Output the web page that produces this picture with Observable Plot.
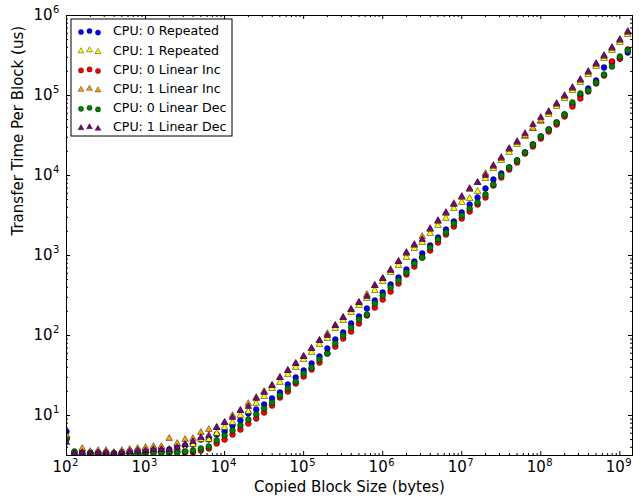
<!DOCTYPE html>
<html><head><meta charset="utf-8">
<script src="https://cdn.jsdelivr.net/npm/d3@7"></script>
<script src="https://cdn.jsdelivr.net/npm/@observablehq/plot@0.6"></script>
<style>body{margin:0;background:#fff;}</style>
</head><body><div id="chart"></div>
<script>
const blockSizes = [100, 126, 158, 200, 251, 316, 398, 501, 631, 794,
  1000, 1259, 1585, 1995, 2512, 3162, 3981, 5012, 6310, 7943,
  10000, 12589, 15849, 19953, 25119, 31623, 39811, 50119, 63096, 79433,
  100000, 125893, 158489, 199526, 251189, 316228, 398107, 501187, 630957, 794328,
  1000000, 1258925, 1584893, 1995262, 2511886, 3162278, 3981072, 5011872, 6309573, 7943282,
  10000000, 12589254, 15848932, 19952623, 25118864, 31622777, 39810717, 50118723, 63095734, 79432823,
  100000000, 125892541, 158489319, 199526231, 251188643, 316227766, 398107171, 501187234, 630957344, 794328235,
  1000000000, 1258925412];

const cpu0Repeated = [6.31,3.45,3.55,3.45,3.45,3.45,3.35,3.45,3.55,3.65,
  3.65,3.76,3.76,3.76,4.10,4.22,4.34,5.01,5.01,5.79,
  6.31,7.50,8.66,10.59,11.89,13.72,16.31,19.39,24.41,29.85,
  36.52,44.67,54.64,68.79,89.13,109.0,141.3,172.8,217.5,273.8,
  344.7,434.0,530.9,668.3,841.4,1059,1334,1679,2113,2661,
  3447,4340,5309,6879,8913,10590,12590,15400,19390,24410,
  30730,37580,45970,57880,77180,100000,122300,154000,223900,258500,
  290100,344700];
const cpu1Repeated = [5.31,3.35,3.45,3.35,3.45,3.45,3.35,3.45,3.55,3.55,
  3.65,3.65,3.65,3.65,3.76,3.76,4.34,5.01,5.01,5.96,
  7.08,8.18,10.0,11.22,14.13,17.28,21.75,25.85,32.55,39.81,
  50.12,61.31,77.18,91.73,122.3,154.0,193.9,237.1,290.1,365.2,
  473.2,613.1,749.9,944.1,1223,1454,1884,2371,2901,3868,
  4597,5158,6310,9173,12230,15400,19390,24410,30730,38680,
  47320,57880,72860,91730,115500,145400,183000,230400,290100,365200,
  459700,578800];
const cpu0LinearInc = [5.31,3.35,3.35,3.35,3.35,3.35,3.35,3.35,3.35,3.35,
  3.35,3.35,3.35,3.35,3.45,3.45,3.45,3.65,3.87,4.47,
  5.01,5.79,6.68,7.94,9.17,10.90,13.34,16.79,19.95,25.12,
  30.73,37.58,45.97,59.57,72.86,91.73,112.2,141.3,177.8,223.9,
  281.8,354.8,446.7,578.8,728.6,944.1,1155,1454,1830,2304,
  2901,3548,4340,5309,7499,9441,11890,14540,18840,23040,
  29010,35480,43400,54640,72860,91730,112200,141300,177800,266100,
  290100,375800];
const cpu1LinearInc = [5.62,3.35,3.87,3.55,3.65,3.65,3.45,3.65,3.76,3.87,
  3.98,4.10,4.10,5.16,4.47,5.01,5.16,6.13,6.68,7.08,
  8.18,10.0,11.55,14.13,16.79,19.95,23.71,29.85,36.52,44.67,
  54.64,68.79,86.60,105.9,133.4,167.9,211.3,258.5,325.5,421.7,
  515.8,668.3,841.4,1059,1334,1728,2113,2661,3350,4467,
  5309,6683,8175,10590,12960,16310,21130,25850,31620,38680,
  48700,61310,77180,97160,122300,154000,193900,244100,307300,386800,
  487000,613100];
const cpu0LinearDec = [5.01,3.55,3.35,3.35,3.35,3.35,3.35,3.35,3.35,3.35,
  3.45,3.45,3.45,3.45,3.45,3.55,3.65,3.87,4.10,4.87,
  5.62,6.49,7.50,8.91,10.29,12.23,14.54,17.78,21.75,26.61,
  33.50,39.81,50.12,59.57,79.43,100.0,125.9,158.5,183.0,251.2,
  316.2,398.1,487.0,613.1,794.3,944.1,1259,1585,1939,2512,
  3162,3868,4597,5788,7718,10000,12590,15400,19390,24410,
  30730,37580,45970,57880,81750,105900,115500,145400,183000,230400,
  307300,365200];
const cpu1LinearDec = [4.60,3.35,3.45,3.35,3.45,3.45,3.35,3.45,3.55,3.65,
  3.65,3.76,3.76,3.76,3.98,4.34,4.73,5.31,5.62,7.08,
  8.18,9.44,11.55,12.96,16.31,19.39,23.71,29.85,36.52,44.67,
  54.64,68.79,86.60,100.0,133.4,167.9,211.3,258.5,307.3,421.7,
  515.8,649.4,841.4,1090,1372,1585,2175,2738,3447,4340,
  5464,6879,8175,10000,13340,16790,21750,26610,33500,43400,
  53090,63100,79430,100000,125900,158500,199500,251200,316200,398100,
  501200,631000];

const seriesNames = ["CPU: 0 Repeated", "CPU: 1 Repeated", "CPU: 0 Linear Inc", "CPU: 1 Linear Inc", "CPU: 0 Linear Dec", "CPU: 1 Linear Dec"];
const seriesColors = ["#0000ff", "#ffff00", "#ff0000", "#ffa500", "#008000", "#800080"];
const seriesSymbols = ["circle", "triangle", "circle", "triangle", "circle", "triangle"];
const seriesValues = [cpu0Repeated, cpu1Repeated, cpu0LinearInc, cpu1LinearInc, cpu0LinearDec, cpu1LinearDec];

const xMajorTicks = [1e2, 1e3, 1e4, 1e5, 1e6, 1e7, 1e8, 1e9];
const xTickExponents = ["2", "3", "4", "5", "6", "7", "8", "9"];
const yMajorTicks = [1e1, 1e2, 1e3, 1e4, 1e5, 1e6];
const yTickExponents = ["1", "2", "3", "4", "5", "6"];
const minorSteps = [2, 3, 4, 5, 6, 7, 8, 9];
const xMinorTicks = [1e2, 1e3, 1e4, 1e5, 1e6, 1e7, 1e8].flatMap(d => minorSteps.map(m => m * d));
const yMinorTicks = [1, 1e1, 1e2, 1e3, 1e4, 1e5].flatMap(d => minorSteps.map(m => m * d)).filter(v => v > 3.17 && v < 1e6);

const xDomain = [100, 1.445e9];
const yDomain = [3.162, 1e6];

const rows = seriesValues.flatMap((vals, s) => vals.map((v, i) => ({x: blockSizes[i], y: v, s})));

const W = 644, H = 502, ML = 66, MR = 12, MT = 15, MB = 47;
const FW = W - ML - MR, FH = H - MT - MB;

const dotMarks = seriesNames.map((name, s) => Plot.dot(rows.filter(r => r.s === s), {
  x: "x", y: "y",
  symbol: seriesSymbols[s],
  r: seriesSymbols[s] === "circle" ? 2.9 : 2.5,
  fill: seriesColors[s],
  stroke: "#000", strokeWidth: 0.6, strokeOpacity: 0.75,
  clip: true
}));

const chart = Plot.plot({
  width: W, height: H,
  marginLeft: ML, marginRight: MR, marginTop: MT, marginBottom: MB,
  style: {fontFamily: "'DejaVu Sans', sans-serif", background: "#fff", color: "#000"},
  x: {type: "log", domain: xDomain, axis: null},
  y: {type: "log", domain: yDomain, axis: null},
  marks: [
    ...dotMarks,
    Plot.frame({stroke: "#000", strokeWidth: 1}),
    Plot.tickX(xMajorTicks, {x: d => d, insetTop: FH - 4, stroke: "#000"}),
    Plot.tickX(xMajorTicks, {x: d => d, insetBottom: FH - 4, stroke: "#000"}),
    Plot.tickX(xMinorTicks, {x: d => d, insetTop: FH - 2, stroke: "#000"}),
    Plot.tickX(xMinorTicks, {x: d => d, insetBottom: FH - 2, stroke: "#000"}),
    Plot.tickY(yMajorTicks, {y: d => d, insetRight: FW - 4, stroke: "#000"}),
    Plot.tickY(yMajorTicks, {y: d => d, insetLeft: FW - 4, stroke: "#000"}),
    Plot.tickY(yMinorTicks, {y: d => d, insetRight: FW - 2, stroke: "#000"}),
    Plot.tickY(yMinorTicks, {y: d => d, insetLeft: FW - 2, stroke: "#000"}),
    Plot.text(xMajorTicks, {x: d => d, frameAnchor: "bottom", text: () => "10", textAnchor: "end", dx: 5, dy: 16, fontSize: 15, fill: "#000"}),
    Plot.text(xMajorTicks, {x: d => d, frameAnchor: "bottom", text: (d, i) => xTickExponents[i], textAnchor: "start", dx: 5.5, dy: 10, fontSize: 10, fill: "#000"}),
    Plot.text(yMajorTicks, {y: d => d, frameAnchor: "left", text: () => "10", textAnchor: "end", dx: -14, dy: 0, fontSize: 15, fill: "#000"}),
    Plot.text(yMajorTicks, {y: d => d, frameAnchor: "left", text: (d, i) => yTickExponents[i], textAnchor: "start", dx: -13.5, dy: -6, fontSize: 10, fill: "#000"}),
    Plot.text(["Copied Block Size (bytes)"], {frameAnchor: "bottom", dy: 36, fontSize: 15, fill: "#000"}),
    Plot.text(["Transfer Time Per Block (us)"], {frameAnchor: "left", dx: -48, rotate: -90, fontSize: 15, fill: "#000"})
  ]
});

// legend (matplotlib-style, inside axes, upper left)
const svg = d3.select(chart);
const lg = svg.append("g").attr("font-family", "'DejaVu Sans', sans-serif").attr("font-size", 12.6).attr("text-anchor", "start");
lg.append("rect").attr("x", 71).attr("y", 19).attr("width", 161).attr("height", 117)
  .attr("fill", "#fff").attr("stroke", "#000").attr("stroke-width", 1);
const markerXs = [81, 89.5, 98];
const markerDy = [1, 0, 1.6];
seriesNames.forEach((name, s) => {
  const cy = 31 + s * 19.2;
  markerXs.forEach((mx, k) => {
    const isC = seriesSymbols[s] === "circle";
    const r = isC ? 2.6 : 2.2;
    const sym = isC ? d3.symbolCircle : d3.symbolTriangle;
    lg.append("path").attr("d", d3.symbol(sym, Math.PI * r * r)())
      .attr("transform", `translate(${mx},${cy + markerDy[k]})`)
      .attr("fill", seriesColors[s]).attr("stroke", "#000").attr("stroke-width", 0.5).attr("stroke-opacity", 0.75);
  });
  lg.append("text").attr("x", 113).attr("y", cy).attr("dy", "0.35em").attr("text-anchor", "start").attr("fill", "#000").text(name);
});

document.getElementById("chart").appendChild(chart);
</script>
</body></html>
